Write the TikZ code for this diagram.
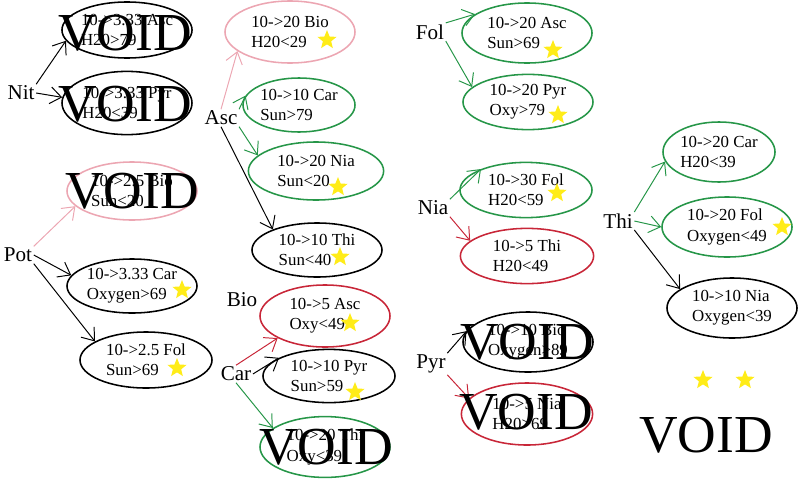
\documentclass[tikz,border=0pt]{standalone}
\usepackage{fontspec}
\setmainfont{Liberation Serif}
\usetikzlibrary{shapes.geometric,arrows.meta}
\definecolor{pinkline}{RGB}{236,166,178}
\definecolor{greenline}{RGB}{38,150,72}
\definecolor{redline}{RGB}{200,38,56}
\definecolor{staryellow}{RGB}{255,236,24}
\begin{document}
\begin{tikzpicture}[x=0.025cm,y=-0.025cm,>={Straight Barb[length=2.8mm,width=4.2mm]},
        bubble/.style={ellipse,draw,line width=1.1pt,inner sep=0pt,minimum width=3.25cm,minimum height=1.45cm,align=left,font=\fontsize{12}{14.5}\selectfont},
        lbl/.style={font=\fontsize{15}{18}\selectfont,inner sep=1pt},
        voidtext/.style={font=\fontsize{38}{40}\selectfont,inner sep=0pt},
        goldstar/.style={star,star points=5,star point ratio=2.3,fill=staryellow,minimum size=0.5cm,inner sep=0pt},
        link/.style={->,line width=0.7pt}]
        \useasboundingbox (0,0) rectangle (800,493);
        \node[lbl] (nit) at (21,93) {Nit};
        \node[lbl] (pot) at (18,255) {Pot};
        \node[lbl] (asc) at (221,118) {Asc};
        \node[lbl] (bio) at (242,300) {Bio};
        \node[lbl] (car) at (236,374) {Car};
        \node[lbl] (fol) at (430,32) {Fol};
        \node[lbl] (nia) at (433,208) {Nia};
        \node[lbl] (pyr) at (431,364) {Pyr};
        \node[lbl] (thi) at (618,221) {Thi};
        \node[bubble] (nitasc) at (127,30) [minimum height=1.4cm] {10->3.33 Asc\\H20>79};
        \node[bubble] (nitpyr) at (127,103) [minimum height=1.58cm] {10->3.33 Pyr\\H20<39};
        \node[bubble,draw=pinkline] (potbio) at (132,191) {10->2.5 Bio\\Sun<20};
        \node[bubble] (potcar) at (132,286) [minimum height=1.35cm] {10->3.33 Car\\Oxygen>69};
        \node[bubble] (potfol) at (146,360) [minimum width=3.3cm,minimum height=1.4cm] {10->2.5 Fol\\Sun>69};
        \node[bubble,draw=pinkline] (ascbio) at (290,32) [minimum height=1.55cm] {10->20 Bio\\H20<29};
        \node[bubble,draw=greenline] (asccar) at (299,105) [minimum width=2.8cm,minimum height=1.35cm] {10->10 Car\\Sun>79};
        \node[bubble,draw=greenline] (ascnia) at (316,171) [minimum width=3.38cm] {10->20 Nia\\Sun<20};
        \node[bubble] (ascthi) at (317,250) [minimum height=1.35cm] {10->10 Thi\\Sun<40};
        \node[bubble,draw=redline] (carasc) at (325,316) [minimum height=1.55cm] {10->5 Asc\\Oxy<49};
        \node[bubble] (carpyr) at (329,376) [minimum width=3.3cm,minimum height=1.33cm] {10->10 Pyr\\Sun>59};
        \node[bubble,draw=greenline] (carthi) at (325,447) [minimum height=1.52cm] {10->20 Thi\\Oxy<39};
        \node[bubble,draw=greenline] (folasc) at (527,33) [minimum height=1.5cm] {10->20 Asc\\Sun>69};
        \node[bubble,draw=greenline] (folpyr) at (528,102) [minimum height=1.38cm] {10->20 Pyr\\Oxy>79};
        \node[bubble,draw=greenline] (niafol) at (526,190) [minimum width=3.3cm,minimum height=1.38cm] {10->30 Fol\\H20<59};
        \node[bubble,draw=redline] (niathi) at (527,256) [minimum width=3.33cm,minimum height=1.38cm] {10->5 Thi\\H20<49};
        \node[bubble] (pyrbio) at (528,342) [minimum height=1.5cm] {10->10 Bio\\Oxygen>89};
        \node[bubble,draw=redline] (pyrnia) at (527,414) [minimum width=3.28cm,minimum height=1.55cm] {10->5 Nia\\H20>69};
        \node[bubble,draw=greenline] (thicar) at (719,152) [minimum width=2.8cm,minimum height=1.5cm] {10->20 Car\\H20<39};
        \node[bubble,draw=greenline] (thifol) at (727,227) [minimum height=1.5cm] {10->20 Fol\\Oxygen<49};
        \node[bubble] (thinia) at (732,308) [minimum height=1.5cm] {10->10 Nia\\Oxygen<39};
        \foreach \x/\y [count=\i] in {182/290,177/368,327/40,338/187,340/257,350/323,355/392,553/50,558/115,557/193,782/227,703/380,745/380}
            \node[goldstar] (star\i) at (\x,\y) {};
        \draw[link] (nit.north east) -- (nitasc.190);
        \draw[link] (nit.east) -- (nitpyr.175);
        \draw[link,pinkline] (pot.north east) -- (potbio.195);
        \draw[link] (pot.east) -- (potcar.170);
        \draw[link] (pot.south east) -- (potfol.160);
        \draw[link,pinkline] (asc.north) -- (ascbio.200);
        \draw[link,greenline] (asc.north east) -- (asccar.170);
        \draw[link,greenline] (asc.south east) -- (ascnia.165);
        \draw[link] (asc.south) -- (ascthi.155);
        \draw[link,redline] (car.north) -- (carasc.205);
        \draw[link] (car.east) -- (carpyr.160);
        \draw[link,greenline] (car.south) -- (carthi.160);
        \draw[link,greenline] (fol.north east) -- (folasc.160);
        \draw[link,greenline] (fol.south east) -- (folpyr.165);
        \draw[link,greenline] (nia.north east) -- (niafol.155);
        \draw[link,redline] (nia.south east) -- (niathi.165);
        \draw[link] (pyr.north east) -- (pyrbio.170);
        \draw[link,redline] (pyr.south east) -- (pyrnia.165);
        \draw[link,greenline] (thi.north east) -- (thicar.190);
        \draw[link,greenline] (thi.east) -- (thifol.180);
        \draw[link] (thi.south east) -- (thinia.160);
        \node[voidtext] (void1) at (125,33) {VOID};
        \node[voidtext] (void2) at (125,104) {VOID};
        \node[voidtext] (void3) at (132,191) {VOID};
        \node[voidtext] (void4) at (326,447) {VOID};
        \node[voidtext] (void5) at (527,342) {VOID};
        \node[voidtext] (void6) at (526,412) {VOID};
        \node[voidtext] (void7) at (706,435) {VOID};
    \end{tikzpicture}
\end{document}
